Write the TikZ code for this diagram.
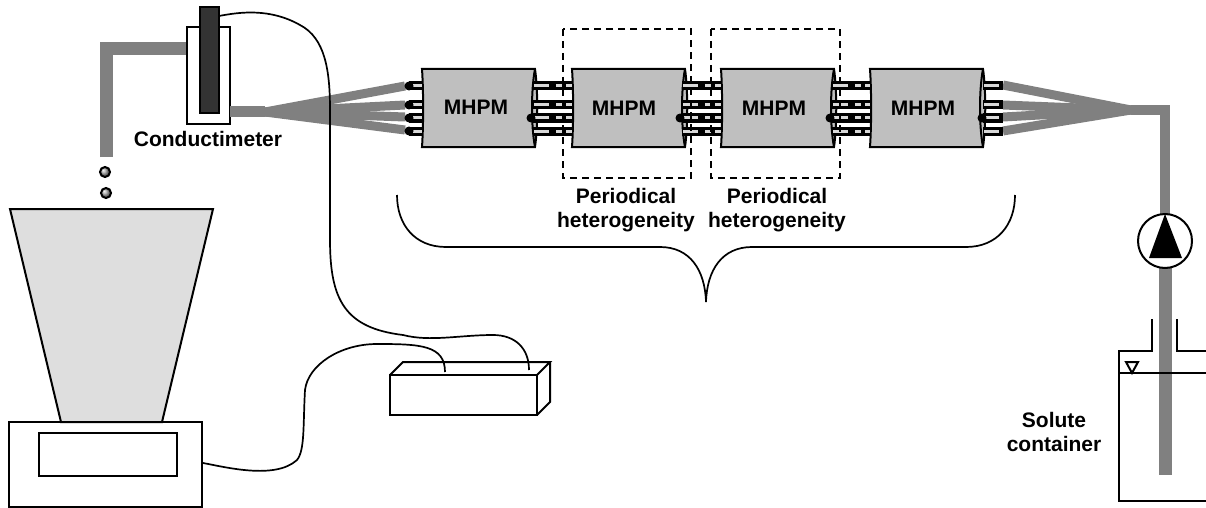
\documentclass[tikz,border=0pt]{standalone}
\usepackage{fontspec}
\setmainfont{Liberation Sans}
\definecolor{pipegray}{gray}{.5}
\definecolor{modulegray}{gray}{.75}
\definecolor{funnelgray}{gray}{.87}
\definecolor{probegray}{gray}{.2}
\definecolor{stripegray}{gray}{.85}
\tikzset{
  labeltext/.style={font=\bfseries\fontsize{21}{24}\selectfont, align=center},
  pipe/.style={draw=pipegray, line width=#1},
  pipe/.default=10pt,
  outline/.style={draw=black, line width=2pt},
  wire/.style={draw=black, line width=1.7pt},
  module/.style={fill=modulegray, draw=black, line width=2pt},
  cell/.style={draw=black, dash pattern=on 7pt off 5pt, line width=1.6pt},
}
\begin{document}
\begin{tikzpicture}[x=1pt, y=-1pt]
  \useasboundingbox (0,0) rectangle (1206,508);
  % balance
  \draw [outline, fill=funnelgray] (10,209) coordinate (f1) -- (213,209) coordinate (f2)
  -- (162,422) coordinate (f3) -- (61,422) coordinate (f4) -- cycle;
  \draw [outline] (9,422) rectangle (202,507);
  \draw [outline] (39,433) rectangle (177,476);
  % drops
  \shade [ball color=gray!70] (105,172) circle (5);
  \draw [outline] (105,172) circle (5);
  \shade [ball color=gray!70] (106,193) circle (5);
  \draw [outline] (106,193) circle (5);
  % outlet
  \draw [pipe=13pt] (106,157) -- (106,48.5) -- (187,48.5);
  \draw [outline, fill=white] (187,27) rectangle (230,124);
  \draw [outline, fill=probegray] (200,7) rectangle (219,113);
  \coordinate (sink) at (265,112);
  \draw [pipe=11pt] (230,112) -- (sink);
  \foreach \y in {86,105,117,130}
    \draw [pipe=9pt] (sink) -- (405,\y);
  % return side
  \coordinate (join) at (1131,110);
  \foreach \y in {85,105,117,131}
    \draw [pipe=9pt] (join) -- (1003,\y);
  \draw [pipe=10pt] (join) -- (1165,110) -- (1165,215);
  \draw [pipe=13pt] (1165,265) -- (1165,475);
  % modules
  \foreach \x in {422,572,721,870} {
    \draw [module] (\x,69) -- (\x+113,69)
    .. controls (\x+116,90) and (\x+116,126) .. (\x+113,147)
    -- (\x,147) .. controls (\x+1.5,125) and (\x+1.5,91) .. (\x,69) -- cycle;
    \draw [module, fill=none] (\x+113,69)
    .. controls (\x+109,90) and (\x+109,126) .. (\x+113,147);
  }
  % tubes
  \foreach \y in {86,105,118,131} {
    \foreach \xa/\xb in {409/422,983/1003}
      \draw [black, line width=9pt] (\xa,\y) -- (\xb,\y);
    \foreach \xa/\xb in {533/572,682/721,832/870}
      \draw [black, line width=9pt] (\xa,\y) -- (\xb,\y);
    \foreach \xa/\xb in {409/422,984/999}
      \draw [stripegray, line width=3pt] (\xa,\y) -- (\xb,\y);
    \foreach \xa/\xb in {534/572,683/721,833/870}
      \draw [stripegray, line width=3pt, dash pattern=on 15pt off 7pt on 6pt off 4pt on 8pt] (\xa,\y) -- (\xb,\y);
    \fill [black] (409,\y) circle (4.5);
  }
  \foreach \xa in {531,680,830,982}
    \fill [black] (\xa,118) circle (4.5);
  % cells
  \draw [cell] (563,29) rectangle (691,178);
  \draw [cell] (711,29) rectangle (840,178);
  % brace
  \draw [wire] (397,195) .. controls (397,225) and (415,247) .. (446,247)
  -- (660,247) .. controls (690,247) and (705,270) .. (706,302)
  .. controls (707,270) and (722,247) .. (752,247)
  -- (966,247) .. controls (997,247) and (1015,225) .. (1015,195);
  % wires
  \draw [wire] (219,16) .. controls (240,12) and (270,8) .. (300,25)
  .. controls (325,38) and (330,70) .. (330,110) -- (330,240)
  .. controls (330,300) and (345,328) .. (403,335)
  .. controls (430,342) and (460,335) .. (493,335)
  .. controls (515,335) and (529,348) .. (529,370);
  \draw [wire] (203,463) .. controls (225,467) and (275,480) .. (297,460)
  .. controls (305,450) and (303,425) .. (305,390)
  .. controls (308,365) and (340,344) .. (377,344)
  .. controls (420,344) and (445,345) .. (445,372);
  % power box
  \draw [outline] (390,375) rectangle (537,415);
  \draw [outline] (390,375) -- (403,362) -- (550,362) -- (537,375);
  \draw [outline] (550,362) -- (550,402) -- (537,415);
  % pump
  \draw [outline, fill=white] (1165,241) coordinate (pump) circle (27);
  \fill [black] (1165,214) -- (1182,258) -- (1149,258) -- cycle;
  % container
  \draw [outline] (1152,319) -- (1152,351) -- (1119,351) -- (1119,501) -- (1206,501);
  \draw [outline] (1177,319) -- (1177,351) -- (1206,351);
  \draw [outline] (1119,373) -- (1206,373);
  \draw [outline] (1126,362) -- (1138,362) -- (1132,373) -- cycle;
  % labels
  \node [labeltext] (mhpm1) at (476,107) {MHPM};
  \node [labeltext] (mhpm2) at (624,108) {MHPM};
  \node [labeltext] (mhpm3) at (774,108) {MHPM};
  \node [labeltext] (mhpm4) at (923,108) {MHPM};
  \node [labeltext] (conductimeter) at (208,139) {Conductimeter};
  \node [labeltext] (period1) at (626,210) {Periodical\\heterogeneity};
  \node [labeltext] (period2) at (777,210) {Periodical\\heterogeneity};
  \node [labeltext] (solute) at (1054,432) {Solute\\container};
\end{tikzpicture}
\end{document}
